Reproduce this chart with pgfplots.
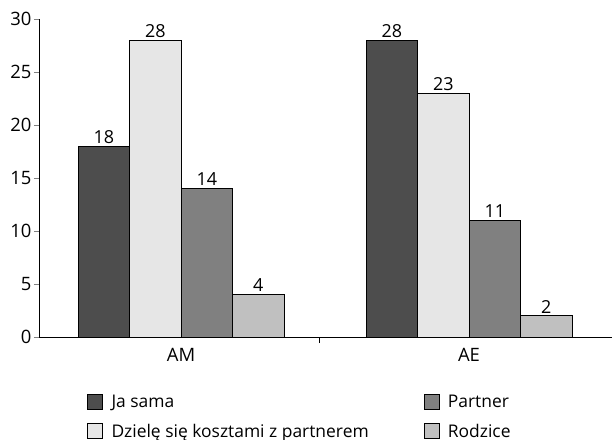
\documentclass[border=0pt]{standalone}
\usepackage{pgfplots}
\pgfplotsset{compat=1.18}
\usepackage{fontspec}
\setmainfont{Open Sans}
\definecolor{cJa}{HTML}{4D4D4D}
\definecolor{cDz}{HTML}{E6E6E6}
\definecolor{cPa}{HTML}{808080}
\definecolor{cRo}{HTML}{C0C0C0}
\newcommand{\lbl}{\fontsize{17.5}{20}\selectfont}
\begin{document}
\begin{tikzpicture}
\useasboundingbox (-39bp,-103bp) rectangle (573bp,337bp);
\begin{axis}[
    scale only axis, width=573bp, height=318bp,
    at={(0,0)}, anchor=south west,
    ybar=0pt, bar width=51.5bp,
    xmin=-0.4931, xmax=1.4965, ymin=0, ymax=30,
    axis x line=bottom, axis y line=left,
    axis line style={-, line width=0.8bp},
    xtick={0,1}, xticklabels={AM,AE},
    x tick style={draw=none},
    extra x ticks={0.479}, extra x tick labels={},
    extra x tick style={x tick style={draw=black, line width=0.8bp}, major tick length=6bp},
    ytick={0,5,...,30},
    tick align=outside, major tick length=5bp,
    y tick style={line width=0.8bp},
    /pgf/number format/assume math mode=true,
    tick label style={font=\fontsize{18.5}{21}\selectfont},
    xticklabel style={yshift=-3bp},
    yticklabel style={xshift=1bp},
    nodes near coords,
    every node near coord/.append style={font=\fontsize{18}{21}\selectfont, text=black, yshift=-1bp},
    legend columns=2, transpose legend,
    legend cell align=left,
    legend style={draw=none, fill=none, inner sep=0pt, at={(0.084,-0.175)}, anchor=north west,
        font=\lbl, row sep=11bp,
        /tikz/every odd column/.append style={column sep=6.5bp},
        /tikz/every even column/.append style={column sep=53bp}},
    legend image code/.code={\draw[#1, draw=black, line width=0.7bp] (0bp,-7.5bp) rectangle (15bp,7.5bp);},
]
\addplot[fill=cJa, draw=black, line width=0.8bp] coordinates {(0,18) (1,28)};
\addplot[fill=cDz, draw=black, line width=0.8bp] coordinates {(0,28) (1,23)};
\addplot[fill=cPa, draw=black, line width=0.8bp] coordinates {(0,14) (1,11)};
\addplot[fill=cRo, draw=black, line width=0.8bp] coordinates {(0,4) (1,2)};
\legend{Ja sama, {Dzielę się kosztami z partnerem}, Partner, Rodzice}
\end{axis}
\end{tikzpicture}
\end{document}
